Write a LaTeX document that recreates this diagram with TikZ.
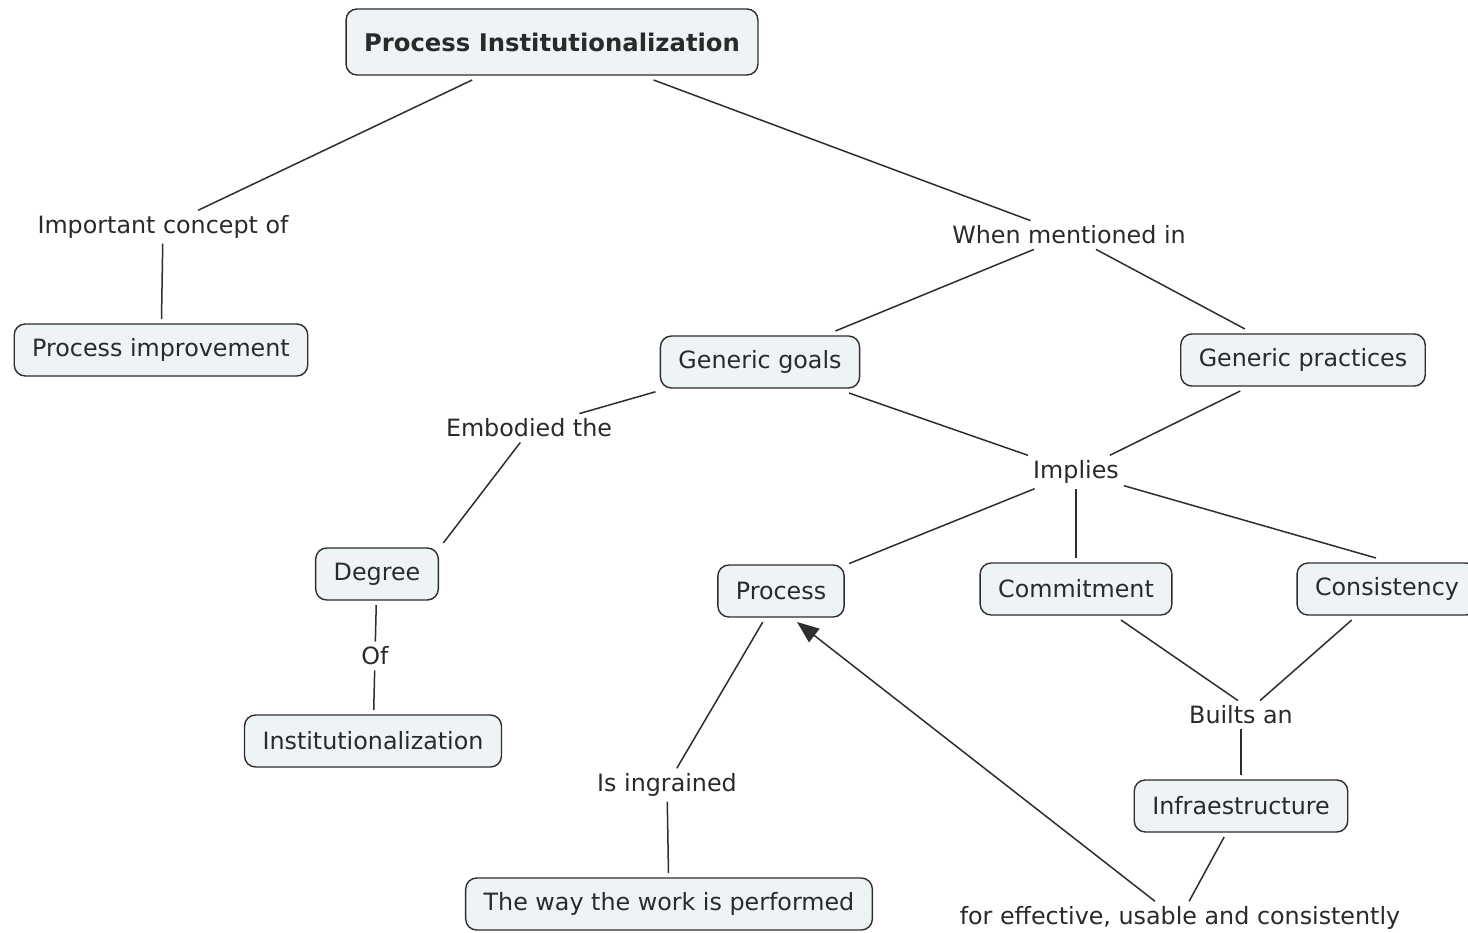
\documentclass[tikz,border=0pt]{standalone}
\usepackage{fontspec}
\setmainfont{DejaVu Sans}
\usetikzlibrary{arrows.meta,calc}
\definecolor{boxfill}{HTML}{EEF3F6}
\definecolor{ink}{HTML}{2A2A2A}
\definecolor{edgec}{HTML}{2E2E2E}
\begin{document}
\begin{tikzpicture}[x=1pt,y=-1pt,
  concept/.style={draw=edgec, fill=boxfill, rounded corners=11pt, line width=1.4pt,
    inner xsep=18pt, inner ysep=4pt, minimum height=52pt, outer sep=5pt, text=ink,
    font=\fontsize{23.8}{27}\selectfont},
  linklabel/.style={inner sep=5pt, text=ink, font=\fontsize{23.8}{27}\selectfont},
  conn/.style={draw=edgec, line width=1.5pt},
  arrowconn/.style={conn, -{Triangle[length=22pt,width=17pt]}}]
\useasboundingbox (0,0) rectangle (1468,933);
\fill[white] (0,0) rectangle (1468,933);

% concepts
\node[concept, minimum height=66pt, inner xsep=18pt, font=\fontsize{24.3}{28}\selectfont\bfseries] (pi) at (552,42) {Process Institutionalization};
\node[concept] (pimp) at (161,350) {Process improvement};
\node[concept] (gg) at (760,362) {Generic goals};
\node[concept] (gp) at (1303,360) {Generic practices};
\node[concept] (deg) at (377,574) {Degree};
\node[concept] (inst) at (373,741) {Institutionalization};
\node[concept] (proc) at (781,591) {Process};
\node[concept] (comm) at (1076,589) {Commitment};
\node[concept] (cons) at (1387,589) {Consistency};
\node[concept] (infra) at (1241,806) {Infraestructure};
\node[concept] (way) at (669,904) {The way the work is performed};

% linking phrases
\node[linklabel] (l1) at (163,227) {Important concept of};
\node[linklabel] (l2) at (1069,235) {When mentioned in};
\node[linklabel] (l3) at (529,428) {Embodied the};
\node[linklabel] (l4) at (1076,472) {Implies};
\node[linklabel] (l5) at (375,656) {Of};
\node[linklabel] (l6) at (667,785) {Is ingrained};
\node[linklabel] (l7) at (1241,715) {Builts an};
\node[linklabel] (l8) at (1180,918) {for effective, usable and consistently};

% connectors
\draw[conn] (pi) -- (l1);
\draw[conn] (l1) -- (pimp);
\draw[conn] (pi) -- (l2);
\draw[conn] (l2) -- (gg);
\draw[conn] (l2) -- (gp);
\draw[conn] (gg) -- (l3);
\draw[conn] (l3.239) -- (deg.north east);
\draw[conn] (deg) -- (l5);
\draw[conn] (l5) -- (inst);
\draw[conn] (gg) -- (l4);
\draw[conn] (gp) -- (l4);
\draw[conn] (l4) -- (proc);
\draw[conn] (l4) -- (comm);
\draw[conn] (l4) -- ($(cons.north)+(-11,0)$);
\draw[conn] (proc) -- (l6);
\draw[conn] (l6) -- (way);
\draw[conn] (comm) -- ($(l7.north)+(-3,0)$);
\draw[conn] (cons) -- ($(l7.north)+(19,0)$);
\draw[conn] (l7) -- (infra);
\draw[conn] (infra) -- (l8);
\draw[arrowconn] ($(l8.north)+(-25,0)$) -- ($(proc.south)+(16,0)$);
\end{tikzpicture}
\end{document}
